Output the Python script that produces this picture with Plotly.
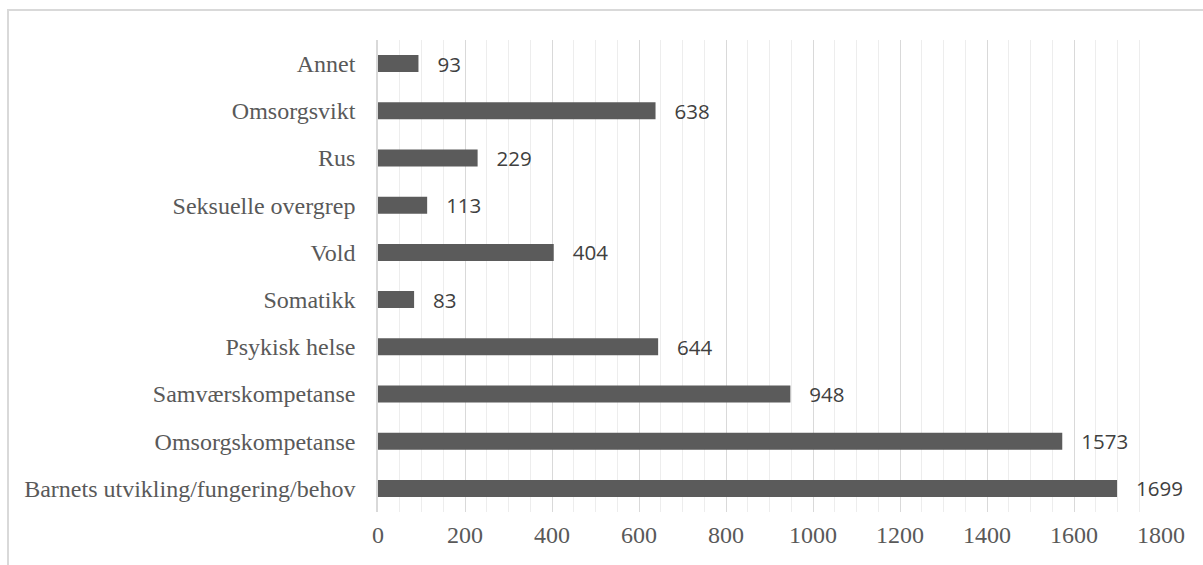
import plotly.graph_objects as go

categories = ["Barnets utvikling/fungering/behov", "Omsorgskompetanse", "Samværskompetanse",
              "Psykisk helse", "Somatikk", "Vold", "Seksuelle overgrep", "Rus",
              "Omsorgsvikt", "Annet"]
values = [1699, 1573, 948, 644, 83, 404, 113, 229, 638, 93]
x_ticks = [0, 200, 400, 600, 800, 1000, 1200, 1400, 1600, 1800]

W, H = 1203, 565
L, R, T, B = 378, 42, 40, 53
pw, ph = W - L - R, H - T - B

fig = go.Figure(go.Bar(
    y=categories, x=values, orientation="h",
    marker=dict(color="#5b5b5b", line=dict(width=0)),
    text=["   " + str(v) for v in values],
    textposition="outside", constraintext="none", cliponaxis=False,
    textfont=dict(family="Open Sans", size=20.5, color="#404040"),
))

fig.update_layout(
    width=W, height=H, margin=dict(l=L, r=R, t=T, b=B),
    plot_bgcolor="white", paper_bgcolor="white",
    bargap=0.64, showlegend=False,
    font=dict(family="Liberation Serif", color="#595959", size=24),
    xaxis=dict(range=[0, 1800], tickvals=x_ticks, showgrid=True,
               gridcolor="#d9d9d9", gridwidth=1, zeroline=False, showline=False,
               ticks="", ticklabelstandoff=6,
               tickfont=dict(family="Liberation Serif", size=24, color="#595959"),
               minor=dict(dtick=50, tick0=0, showgrid=True, gridcolor="#ededed", gridwidth=1)),
    yaxis=dict(showline=True, linecolor="#d9d9d9", linewidth=1.5, ticks="",
               ticklabelstandoff=16, showgrid=False,
               tickfont=dict(family="Liberation Serif", size=24, color="#595959")),
    shapes=[dict(type="rect", xref="paper", yref="paper",
                 x0=(8 - L) / pw, x1=(W + 10 - L) / pw,
                 y0=(T + ph - (H + 10)) / ph, y1=(T + ph - 10) / ph,
                 line=dict(color="#d9d9d9", width=2), layer="below")],
)

fig.write_html("out.html")
